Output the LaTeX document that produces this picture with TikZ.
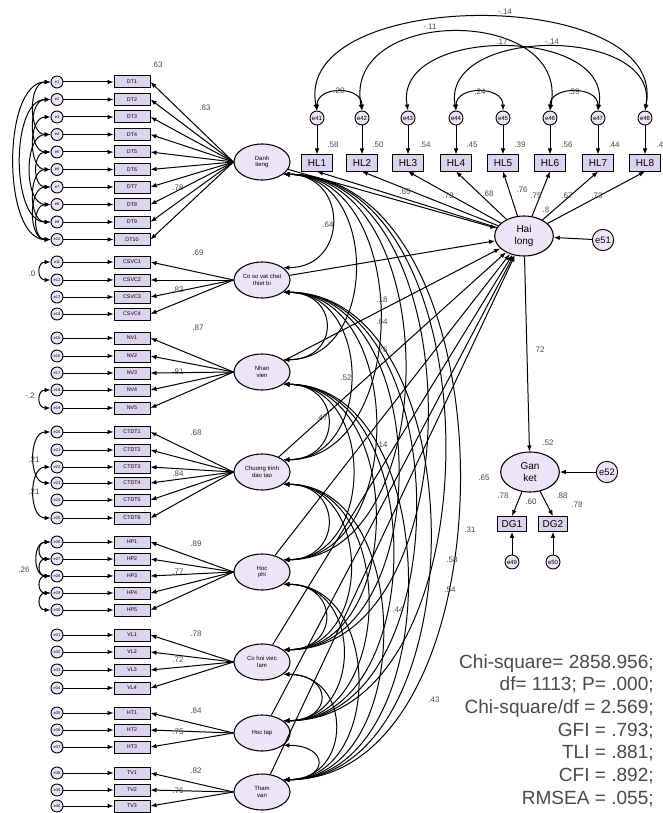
\documentclass[tikz,border=0pt]{standalone}
\usepackage{fontspec}
\setmainfont{Liberation Sans}
\usetikzlibrary{arrows.meta,shapes.geometric,calc}
\definecolor{latfill}{HTML}{EDE5F7}
\definecolor{obsfill}{HTML}{DCD3EC}
\definecolor{numc}{HTML}{4A4A4A}
\newcommand\mkgroup[4]{%
  \foreach \yy [count=\ii] in {#2} {
    \pgfmathtruncatemacro\en{#4+\ii}
    \node[errc] (#1e\ii) at (57,\yy) {e\en};
    \node[obsv] (#1x\ii) at (132,\yy) {#3\ii};
    \draw[arr] (#1e\ii) -- (#1x\ii);
    \draw[arr] (#1.west) -- (#1x\ii.east);
  }}
\newcommand\ecov[3]{%
  \draw[cov] let \p1=(#1e#2.west), \p2=(#1e#3.west), \n1={7pt+0.25*abs(\y1-\y2)} in
    (\p1) .. controls +(-\n1,0pt) and +(-\n1,0pt) .. (\p2);}
\begin{document}
\begin{tikzpicture}[x=0.75pt,y=-0.75pt,
  arr/.style={-{Latex[length=4.5pt,width=3.5pt]},line width=0.75pt},
  cov/.style={{Latex[length=4.5pt,width=3.5pt]}-{Latex[length=4.5pt,width=3.5pt]},line width=0.75pt},
  errc/.style={circle,draw,fill=latfill,minimum size=9pt,inner sep=0pt,line width=0.7pt,font=\fontsize{3}{3}\selectfont},
  obsv/.style={rectangle,draw,fill=obsfill,minimum width=27pt,minimum height=9pt,inner sep=0pt,line width=0.75pt,font=\fontsize{4}{4}\selectfont},
  latv/.style={ellipse,draw,fill=latfill,minimum width=42pt,minimum height=27pt,inner sep=0pt,align=center,line width=0.8pt,font=\fontsize{4.5}{5}\selectfont},
  latb/.style={ellipse,draw,fill=latfill,minimum width=44pt,minimum height=30pt,inner sep=0pt,align=center,line width=0.8pt,font=\fontsize{7.5}{8.5}\selectfont},
  hlbox/.style={rectangle,draw,fill=obsfill,minimum width=23pt,minimum height=12pt,inner sep=0pt,line width=0.75pt,font=\fontsize{7.5}{7.5}\selectfont},
  errb/.style={circle,draw,fill=latfill,minimum size=10.5pt,inner sep=0pt,line width=0.7pt,font=\fontsize{4.5}{4.5}\selectfont},
  errbig/.style={circle,draw,fill=latfill,minimum size=16pt,inner sep=0pt,line width=0.7pt,font=\fontsize{7}{7}\selectfont},
  num/.style={font=\fontsize{6}{6}\selectfont,text=numc,inner sep=0.5pt}]
\useasboundingbox (0,0) rectangle (662,813);
\fill[white] (0,0) rectangle (662,813);

% latent factors (left)
\node[latv] (L1) at (262,162) {Danh\\tieng};
\node[latv] (L2) at (262,280) {Co so vat chat\\thiet bi};
\node[latv] (L3) at (262,372) {Nhan\\vien};
\node[latv] (L4) at (262,472) {Chuong trinh\\dao tao};
\node[latv] (L5) at (262,572) {Hoc\\phi};
\node[latv] (L6) at (262,662) {Co hoi viec\\lam};
\node[latv] (L7) at (262,733) {Hoc tap};
\node[latv] (L8) at (262,792) {Tham\\van};

% Hai long / Gan ket
\node[latb] (HLg) at (524,236) {Hai\\long};
\node[errbig] (e51) at (603,240) {e51};
\node[latb] (GK) at (530,472) {Gan\\ket};
\node[errbig] (e52) at (607,472) {e52};

% item groups
\mkgroup{L1}{82,99.5,117,134.5,152,169.5,187,204.5,222,239.5}{DT}{0}
\mkgroup{L2}{262,280,297,314}{CSVC}{10}
\mkgroup{L3}{338,356,373,390,408}{NV}{14}
\mkgroup{L4}{432,450,467,483,500,518}{CTDT}{19}
\mkgroup{L5}{542,559,576,593,610}{HP}{25}
\mkgroup{L6}{635,652,670,688}{VL}{30}
\mkgroup{L7}{713,730,747}{HT}{34}
\mkgroup{L8}{773,790,806}{TV}{37}

% error covariances (left)
\ecov{L1}{1}{10}\ecov{L1}{2}{9}\ecov{L1}{1}{4}\ecov{L1}{3}{6}\ecov{L1}{4}{8}
\ecov{L1}{5}{7}\ecov{L1}{6}{9}\ecov{L1}{2}{5}\ecov{L1}{7}{10}\ecov{L1}{8}{10}
\ecov{L2}{1}{2}
\ecov{L3}{4}{5}
\ecov{L4}{1}{4}\ecov{L4}{3}{6}
\ecov{L5}{1}{2}\ecov{L5}{2}{3}\ecov{L5}{3}{4}\ecov{L5}{4}{5}\ecov{L5}{1}{3}
\node[num] at (32,274) {.0};
\node[num] at (30,396) {-.2};
\node[num] at (34,460) {.21};
\node[num] at (34,492) {.21};
\node[num] at (24,570) {.26};

% loadings labels (left)
\node[num] at (157,65) {.63};
\node[num] at (205,108) {.83};
\node[num] at (198,253) {.69};
\node[num] at (198,328) {.87};
\node[num] at (196,433) {.68};
\node[num] at (196,544) {.89};
\node[num] at (196,634) {.78};
\node[num] at (196,711) {.84};
\node[num] at (196,771) {.82};
\node[num] at (178,188) {.78};
\node[num] at (178,290) {.83};
\node[num] at (178,372) {.81};
\node[num] at (178,474) {.84};
\node[num] at (178,572) {.77};
\node[num] at (178,660) {.72};
\node[num] at (178,732) {.75};
\node[num] at (178,791) {.76};

% latent covariances
\foreach \a in {1,...,7} {
  \pgfmathtruncatemacro\aa{\a+1}
  \foreach \b in {\aa,...,8} {
    \draw[cov] let \p1=(L\a.-30), \p2=(L\b.30), \n1={26pt+0.33*abs(\y1-\y2)} in
      (\p1) .. controls +(\n1,0pt) and +(\n1,0pt) .. (\p2);
  }
}
\node[num] at (328,225) {.64};
\node[num] at (382,300) {.18};
\node[num] at (382,322) {.64};
\node[num] at (382,350) {.76};
\node[num] at (346,378) {.52};
\node[num] at (382,445) {.14};
\node[num] at (322,418) {.47};
\node[num] at (470,530) {.31};
\node[num] at (452,560) {.58};
\node[num] at (450,590) {.54};
\node[num] at (434,700) {.43};
\node[num] at (398,610) {.44};

% latent -> Hai long
\foreach \k in {1,...,8} { \draw[arr] (L\k) -- (HLg); }

% HL items
\foreach \x [count=\i] in {317,362,408,456,503,550,598,645} {
  \pgfmathtruncatemacro\en{40+\i}
  \node[hlbox] (HL\i) at (\x,163) {HL\i};
  \node[errb] (E\i) at (\x,118) {e\en};
  \draw[arr] (E\i) -- (HL\i);
  \draw[arr] (HLg) -- (HL\i.south);
}
\foreach \x/\v in {333/.58,378/.50,425/.54,472/.45,520/.39,567/.56,614/.44,660/.4} {
  \node[num] at (\x,145) {\v};
}
\node[num] at (405,192) {.65};
\node[num] at (448,196) {.73};
\node[num] at (488,194) {.68};
\node[num] at (522,190) {.76};
\node[num] at (536,196) {.75};
\node[num] at (567,196) {.67};
\node[num] at (597,196) {.73};
\node[num] at (546,210) {.8};

% HL error covariances
\draw[cov] (E1.north) .. controls +(0,-25) and +(0,-25) .. (E2.north);
\draw[cov] (E4.north) .. controls +(0,-25) and +(0,-25) .. (E5.north);
\draw[cov] (E6.north) .. controls +(0,-25) and +(0,-25) .. (E7.north);
\draw[cov] (E1.north) .. controls +(-25,-125) and +(25,-125) .. (E8.north);
\draw[cov] (E2.north) .. controls +(-20,-105) and +(20,-105) .. (E6.north);
\draw[cov] (E3.north) .. controls +(-15,-85) and +(15,-85) .. (E7.north);
\draw[cov] (E4.north) .. controls +(-15,-85) and +(15,-85) .. (E8.north);
\node[num] at (339,91) {.20};
\node[num] at (480,92) {.24};
\node[num] at (574,92) {.39};
\node[num] at (505,12) {-.14};
\node[num] at (430,27) {-.11};
\node[num] at (502,42) {.17};
\node[num] at (552,42) {-.14};

% Hai long -> Gan ket
\draw[arr] (e51) -- (HLg);
\draw[arr] (HLg) -- (GK);
\draw[arr] (e52) -- (GK);
\node[num] at (540,350) {72};
\node[num] at (548,443) {.52};
\node[num] at (484,478) {.65};

% DG items
\node[hlbox,minimum width=22pt,minimum height=11pt] (DG1) at (512,524) {DG1};
\node[hlbox,minimum width=22pt,minimum height=11pt] (DG2) at (553,524) {DG2};
\node[errb] (E49) at (512,562) {e49};
\node[errb] (E50) at (553,562) {e50};
\draw[arr] (GK) -- (DG1.north);
\draw[arr] (GK) -- (DG2.north);
\draw[arr] (E49) -- (DG1);
\draw[arr] (E50) -- (DG2);
\node[num] at (503,496) {.78};
\node[num] at (531,502) {.60};
\node[num] at (562,496) {.88};
\node[num] at (577,505) {.78};

% fit statistics
\node[anchor=north east,align=right,text=numc,inner sep=0pt,font=\fontsize{14.3}{17}\selectfont] (fit) at (654,654)
  {Chi-square= 2858.956;\\ df= 1113; P= .000;\\ Chi-square/df = 2.569;\\ GFI = .793;\\ TLI = .881;\\ CFI = .892;\\ RMSEA = .055;};
\end{tikzpicture}
\end{document}
